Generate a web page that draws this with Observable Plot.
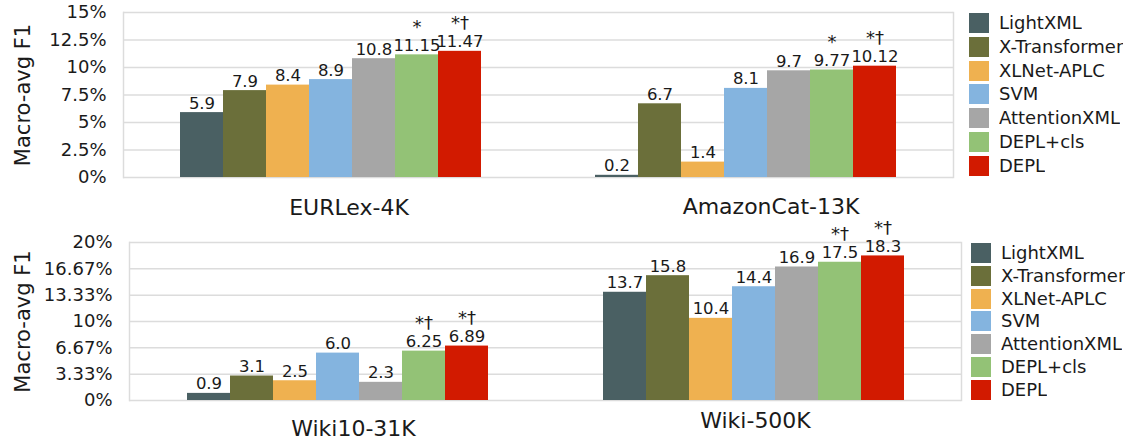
<!DOCTYPE html>
<html><head><meta charset="utf-8">
<script src="https://cdn.jsdelivr.net/npm/d3@7"></script>
<script src="https://cdn.jsdelivr.net/npm/@observablehq/plot@0.6"></script>
<style>
body{margin:0;background:#fff;font-family:"DejaVu Sans",sans-serif;}
#root{position:relative;width:1132px;height:443px;overflow:hidden;background:#fff;}
.panel{position:absolute;left:0;}
.panel svg{overflow:visible !important;background:transparent !important;}
.leg{position:absolute;width:170px;}
.lg-swatches{font-family:"DejaVu Sans",sans-serif !important;font-size:18px !important;color:#1a1a1a;margin:0 !important;}
.lg-swatch{padding-bottom:0 !important;line-height:20px;}
.lg-swatch > svg{margin-right:10px !important;}
#legTop .lg-swatch{margin-bottom:3.8px;}
#legBot .lg-swatch{margin-bottom:2.8px;}
</style></head><body><div id="root"></div>
<script>
const methods = ["LightXML","X-Transformer","XLNet-APLC","SVM","AttentionXML","DEPL+cls","DEPL"];
const colors = ["#4a6063","#6b6f3a","#efb150","#84b4df","#a6a6a6","#93c276","#d21a00"];

const topDatasets = ["EURLex-4K","AmazonCat-13K"];
const bottomDatasets = ["Wiki10-31K","Wiki-500K"];

// displayed values (Macro-avg F1, %)
const eurlex    = ["5.9","7.9","8.4","8.9","10.8","11.15","11.47"];
const amazoncat = ["0.2","6.7","1.4","8.1","9.7","9.77","10.12"];
const wiki10    = ["0.9","3.1","2.5","6.0","2.3","6.25","6.89"];
const wiki500   = ["13.7","15.8","10.4","14.4","16.9","17.5","18.3"];

// significance markers
const eurlexSig    = ["","","","","","*","*†"];
const amazoncatSig = ["","","","","","*","*†"];
const wiki10Sig    = ["","","","","","*†","*†"];
const wiki500Sig   = ["","","","","","*†","*†"];

const topTicks = [0,2.5,5,7.5,10,12.5,15];
const topTickLabels = ["0%","2.5%","5%","7.5%","10%","12.5%","15%"];
const bottomTicks = [0,3.333,6.667,10,13.333,16.667,20];
const bottomTickLabels = ["0%","3.33%","6.67%","10%","13.33%","16.67%","20%"];

const yTitle = "Macro-avg F1";
const grid = "#dcdcdc";
const ink = "#1a1a1a";

function panel(datasets, series, sigs, ticks, tickLabels, L) {
  const rows = datasets.flatMap((ds, i) => methods.map((m, j) => ({
    ds, m, v: +series[i][j], label: series[i][j], sig: sigs[i][j]
  })));
  const catMarks = datasets.map((ds, i) => Plot.text([ds], {
    fx: d => d, text: d => d, frameAnchor: "bottom", lineAnchor: "middle",
    dy: L.catDy[i], dx: L.catDx[i], fontSize: 22, fill: ink
  }));
  return Plot.plot({
    width: L.width, height: L.height,
    marginLeft: L.ml, marginRight: L.mr, marginTop: L.mt, marginBottom: L.mb,
    style: {fontFamily: "DejaVu Sans", background: "transparent", overflow: "visible", color: ink},
    fx: {domain: datasets, padding: 0, axis: null},
    x: {domain: methods, paddingInner: 0, paddingOuter: 1.28, axis: null},
    y: {domain: [ticks[0], ticks[ticks.length - 1]], axis: null},
    color: {domain: methods, range: colors},
    marks: [
      Plot.ruleY(ticks, {stroke: grid, strokeWidth: 1.5}),
      Plot.frame({anchor: "left", facetAnchor: "left", stroke: grid, strokeWidth: 1.5}),
      Plot.frame({anchor: "right", facetAnchor: "right", stroke: grid, strokeWidth: 1.5}),
      Plot.axisY({ticks, tickFormat: d => tickLabels[ticks.indexOf(d)], tickSize: 0, tickPadding: 17,
        fontSize: 18, label: null, facetAnchor: "left", fill: ink}),
      Plot.text([yTitle], {text: d => d, frameAnchor: "left", textAnchor: "middle", lineAnchor: "middle",
        rotate: -90, dx: -(L.ml - 22), fontSize: 21, facetAnchor: "left", fill: ink}),
      Plot.barY(rows, {fx: "ds", x: "m", y: "v", fill: "m"}),
      Plot.text(rows, {fx: "ds", x: "m", y: "v", text: "label", dy: -4, lineAnchor: "bottom",
        fontSize: 16.5, fill: ink}),
      Plot.text(rows.filter(d => d.sig), {fx: "ds", x: "m", y: "v", text: "sig", dy: -22, lineAnchor: "bottom",
        fontSize: 18, fill: ink}),
      ...catMarks
    ]
  });
}

const root = document.getElementById("root");

const topChart = panel(topDatasets, [eurlex, amazoncat], [eurlexSig, amazoncatSig], topTicks, topTickLabels,
  {width: 960, height: 222, ml: 122, mr: 7, mt: 12, mb: 45, catDy: [30, 29], catDx: [18, 25]});
const topDiv = document.createElement("div");
topDiv.className = "panel"; topDiv.style.top = "0px";
topDiv.appendChild(topChart); root.appendChild(topDiv);

const botChart = panel(bottomDatasets, [wiki10, wiki500], [wiki10Sig, wiki500Sig], bottomTicks, bottomTickLabels,
  {width: 965, height: 221, ml: 128, mr: 4, mt: 20, mb: 43, catDy: [28, 20], catDx: [16, 2]});
const botDiv = document.createElement("div");
botDiv.className = "panel"; botDiv.style.top = "222px";
botDiv.appendChild(botChart); root.appendChild(botDiv);

function legend(id, left, topPx) {
  const lg = Plot.legend({color: {domain: methods, range: colors}, legend: "swatches", columns: 1,
    swatchSize: 20, className: "lg"});
  const d = document.createElement("div");
  d.className = "leg"; d.id = id; d.style.left = left + "px"; d.style.top = topPx + "px";
  d.appendChild(lg); root.appendChild(d);
}
legend("legTop", 969, 13);
legend("legBot", 971, 243);
</script></body></html>
